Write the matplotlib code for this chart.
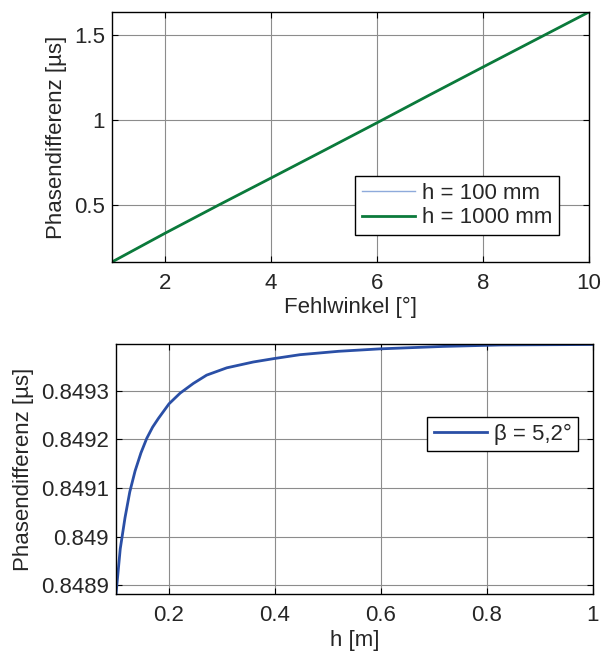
import matplotlib
matplotlib.use("Agg")
import matplotlib.pyplot as plt

plt.rcParams['font.family'] = ['Liberation Sans', 'DejaVu Sans']

# Top chart data
fehlwinkel = [1, 2, 3, 4, 5, 6, 7, 8, 9, 10]
phase_h100 = [0.164, 0.333, 0.497, 0.658, 0.820, 0.983, 1.148, 1.311, 1.473, 1.635]
phase_h1000 = [0.164, 0.333, 0.497, 0.658, 0.820, 0.983, 1.148, 1.311, 1.473, 1.635]
top_xticks = [2, 4, 6, 8, 10]
top_yticks = [0.5, 1.0, 1.5]
top_yticklabels = ["0.5", "1", "1.5"]

# Bottom chart data
h_m = [0.100, 0.108, 0.117, 0.126, 0.136, 0.147, 0.158, 0.169, 0.180, 0.200, 0.221,
       0.246, 0.271, 0.309, 0.359, 0.398, 0.447, 0.520, 0.598, 0.717, 0.825, 1.000]
phase_beta = [0.848882, 0.848975, 0.849039, 0.849092, 0.849135, 0.849172, 0.849202,
              0.849225, 0.849243, 0.849273, 0.849295, 0.849315, 0.849332, 0.849347,
              0.849359, 0.849366, 0.849374, 0.849381, 0.849386, 0.849391, 0.849394,
              0.849395]
bot_xticks = [0.2, 0.4, 0.6, 0.8, 1.0]
bot_xticklabels = ["0.2", "0.4", "0.6", "0.8", "1"]
bot_yticks = [0.8489, 0.8490, 0.8491, 0.8492, 0.8493]
bot_yticklabels = ["0.8489", "0.849", "0.8491", "0.8492", "0.8493"]

fig = plt.figure(figsize=(6.03, 6.53), dpi=100)
ax1 = fig.add_axes([0.1857, 0.5988, 0.791, 0.3828])
ax2 = fig.add_axes([0.1924, 0.0904, 0.791, 0.3828])

FS = 16
TXT = '#262626'

def style(ax):
    ax.grid(True, color='#8c8c8c', linewidth=0.8)
    ax.set_axisbelow(True)
    for s in ax.spines.values():
        s.set_color('black')
        s.set_linewidth(1.0)
    ax.tick_params(direction='in', top=True, right=True, length=4, width=0.8,
                   labelsize=FS, colors='black', labelcolor=TXT, pad=5)
    ax.tick_params(axis='x', pad=8)

ax1.plot(fehlwinkel, phase_h100, color='#8eaadb', linewidth=1.0, label='h = 100 mm')
ax1.plot(fehlwinkel, phase_h1000, color='#0b7a3b', linewidth=2.0, label='h = 1000 mm')
ax1.set_xlim(1, 10)
ax1.set_ylim(0.164, 1.635)
ax1.set_xticks(top_xticks)
ax1.set_yticks(top_yticks)
ax1.set_yticklabels(top_yticklabels)
style(ax1)
ax1.set_xlabel('Fehlwinkel [°]', fontsize=FS, color=TXT, labelpad=2)
ax1.set_ylabel('Phasendifferenz [µs]', fontsize=FS, color=TXT, labelpad=5)
leg1 = ax1.legend(loc='lower right', bbox_to_anchor=(0.937, 0.108), fontsize=FS,
                  frameon=True, fancybox=False, edgecolor='black', framealpha=1,
                  handlelength=2.4, borderpad=0.3, labelspacing=0.15, handletextpad=0.3,
                  borderaxespad=0)
leg1.get_frame().set_linewidth(1.0)
for t in leg1.get_texts():
    t.set_color(TXT)

ax2.plot(h_m, phase_beta, color='#2a4fa6', linewidth=2.0, label='β = 5,2°')
ax2.set_xlim(0.1, 1.0)
ax2.set_ylim(0.848882, 0.849396)
ax2.set_xticks(bot_xticks)
ax2.set_xticklabels(bot_xticklabels)
ax2.set_yticks(bot_yticks)
ax2.set_yticklabels(bot_yticklabels)
style(ax2)
ax2.set_xlabel('h [m]', fontsize=FS, color=TXT, labelpad=3)
ax2.set_ylabel('Phasendifferenz [µs]', fontsize=FS, color=TXT, labelpad=5)
leg2 = ax2.legend(loc='upper right', bbox_to_anchor=(0.969, 0.708), fontsize=FS,
                  frameon=True, fancybox=False, edgecolor='black', framealpha=1,
                  handlelength=2.4, borderpad=0.3, handletextpad=0.3, borderaxespad=0)
leg2.get_frame().set_linewidth(1.0)
for t in leg2.get_texts():
    t.set_color(TXT)

fig.savefig('out.png', dpi=100, facecolor='white')
